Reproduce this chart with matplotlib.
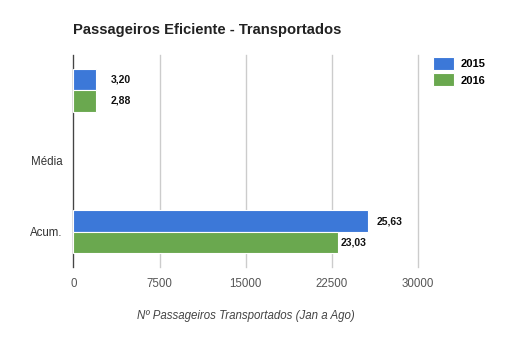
import matplotlib
matplotlib.use("Agg")
import matplotlib.pyplot as plt
import numpy as np

categories = ["Média", "Acum."]
series_names = ["2015", "2016"]
values_2015 = [2000, 25630]
values_2016 = [2000, 23030]
labels_2015 = ["3,20", "25,63"]
labels_2016 = ["2,88", "23,03"]
x_ticks = [0, 7500, 15000, 22500, 30000]

colors = ["#3c78d8", "#6aa84f"]
plt.rcParams['font.family'] = ['Liberation Sans', 'DejaVu Sans']

fig = plt.figure(figsize=(5.15, 3.42), dpi=100)
ax = fig.add_axes([0.1427, 0.2193, 0.8117 - 0.1427, 0.8392 - 0.2193])

bar_slots = np.array([0, 2])     # group positions of bars
tick_slots = np.array([1, 2])    # positions of category labels
h = 0.3
b1 = ax.barh(bar_slots - h / 2, values_2015, height=h, color=colors[0],
             edgecolor="white", linewidth=0.8, label=series_names[0], zorder=3)
b2 = ax.barh(bar_slots + h / 2, values_2016, height=h, color=colors[1],
             edgecolor="white", linewidth=0.8, label=series_names[1], zorder=3)

offs_2015 = [10, 6]
offs_2016 = [10, 2]
for i in range(len(categories)):
    ax.annotate(labels_2015[i], (values_2015[i], bar_slots[i] - h / 2),
                xytext=(offs_2015[i], 0), textcoords="offset points",
                va="center", ha="left", fontsize=7.5, fontweight="bold", color="#111111")
    ax.annotate(labels_2016[i], (values_2016[i], bar_slots[i] + h / 2),
                xytext=(offs_2016[i], 0), textcoords="offset points",
                va="center", ha="left", fontsize=7.5, fontweight="bold", color="#111111")

ax.set_xlim(0, 30000)
ax.set_ylim(2.5, -0.5)
ax.set_xticks(x_ticks)
ax.set_xticklabels([str(t) for t in x_ticks], fontsize=8.3, color="#555555")
ax.set_yticks(tick_slots)
ax.set_yticklabels(categories, fontsize=8.3, color="#333333")
ax.tick_params(axis="both", length=0, pad=8)
ax.xaxis.grid(True, color="#cccccc", linewidth=1, zorder=0)
for gl in ax.get_xgridlines():
    gl.set_clip_on(False)
ax.set_axisbelow(True)
for s in ["top", "right", "bottom"]:
    ax.spines[s].set_visible(False)
ax.spines["left"].set_color("#444444")
ax.spines["left"].set_linewidth(0.9)

ax.set_xlabel("Nº Passageiros Transportados (Jan a Ago)", fontsize=8.3,
              style="italic", color="#444444", labelpad=14)

fig.text(73 / 515, 1 - 30 / 342, "Passageiros Eficiente - Transportados",
         fontsize=10.6, fontweight="bold", color="#222222", ha="left", va="center")

leg = ax.legend(handles=[b1, b2], loc="upper left", bbox_to_anchor=(1.03, 1.01),
                frameon=False, fontsize=8, handlelength=1.9, handleheight=1.4,
                handletextpad=0.6, labelspacing=0.3, borderaxespad=0)
for t in leg.get_texts():
    t.set_fontweight("bold")

fig.savefig("out.png", dpi=100, facecolor="white")
